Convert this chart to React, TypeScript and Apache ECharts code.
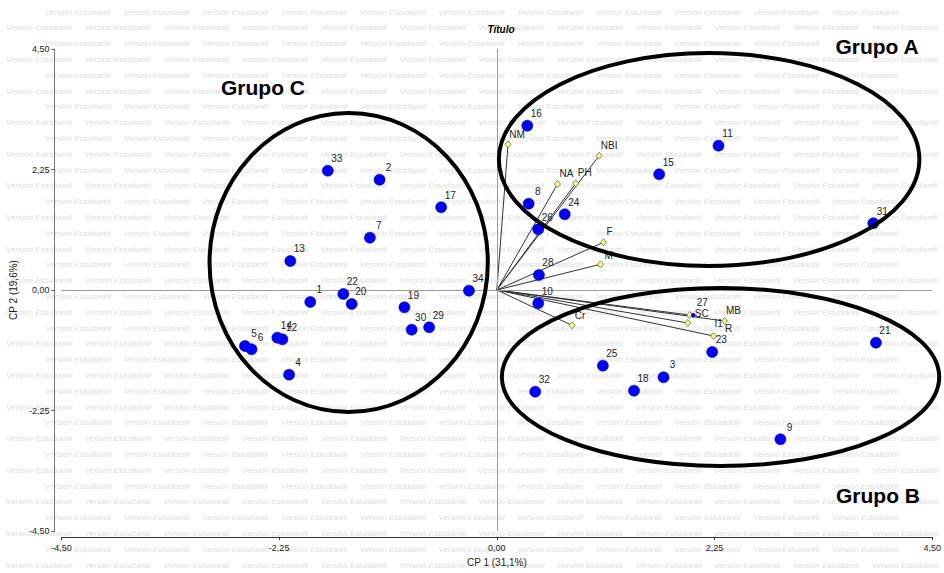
import React, { useEffect, useRef } from "react";
import * as echarts from "echarts";

// ---- Data ----
const pointLabels = ["1","2","3","4","5","6","7","8","9","10","11","12","13","14","15","16","17","18","19","20","21","22","23","24","25","26","27","28","29","30","31","32","33","34"];
const pointX = [-1.928,-1.212,1.723,-2.147,-2.603,-2.535,-1.312,0.329,2.931,0.428,2.291,-2.216,-2.134,-2.268,1.678,0.315,-0.575,1.418,-0.955,-1.5,3.918,-1.586,2.226,0.702,1.096,0.428,2.03,0.435,-0.699,-0.88,3.891,0.397,-1.747,-0.288];
const pointY = [-0.224,2.06,-1.63,-1.581,-1.046,-1.108,0.977,1.611,-2.788,-0.249,2.695,-0.921,0.541,-0.89,2.16,3.068,1.544,-1.88,-0.324,-0.261,-0.983,-0.075,-1.158,1.413,-1.413,1.133,-0.47,0.28,-0.697,-0.741,1.245,-1.898,2.228,-0.012];

const varLabels = ["NM","NBI","NA","PH","F","M","Cr","SC","I1","MB","R"];
const varX = [0.116,1.058,0.627,0.815,1.103,1.072,0.777,1.993,2.24,2.353,1.973];
const varY = [2.72,2.508,1.979,1.992,0.89,0.48,-0.66,-0.467,-0.859,-0.579,-0.616];

const groupNames = ["Grupo A","Grupo B","Grupo C"];
const groupCX = [2.194,2.312,-1.531];
const groupCY = [2.437,-1.624,0.513];
const groupRX = [2.173,2.26,1.438];
const groupRY = [1.988,1.662,2.791];

const axisMin = -4.5;
const axisMax = 4.5;
const axisStep = 2.25;
const xAxisName = "CP 1 (31,1%)";
const yAxisName = "CP 2 (19,6%)";
const chartTitle = "Título";
const watermarkText = "Versión Estudiantil";

// ---- Layout / style (not data) ----
// label centre relative to marker centre, in pixels
const pointLabelOffset = [9, -12];
const varLabelOffsets: number[][] = [[9,-9],[10,-10],[9,-10],[9,-10],[6,-10],[8,-8],[8,-9],[12,-1],[5,-12],[9,-10],[41,6]];
const groupLabelPos: number[][] = [[877,46],[878,495],[263,87]];
const FONT = "'Liberation Sans', Arial, sans-serif";

function fmt(v: number) {
  return v.toFixed(2).replace(".", ",");
}

function buildWatermark() {
  const els: any[] = [];
  const dx = 78.7;
  const dy = 15.8;
  const w = 66;
  for (let i = 0; 12 + i * dy < 568; i++) {
    const y = 12 + i * dy;
    let x = (i % 2 === 0 ? 45 : 6) - dx;
    for (; x < 950; x += dx) {
      if (x < 1 || x + w > 943) continue;
      els.push({
        type: "text",
        silent: true,
        z: -10,
        x,
        y,
        style: {
          text: watermarkText,
          fill: "#e0e0e0",
          font: "italic 8px " + FONT,
          verticalAlign: "middle",
        },
      });
    }
  }
  return els;
}

export default function App() {
  const ref = useRef<HTMLDivElement>(null);
  useEffect(() => {
    if (!ref.current) return;
    const chart = echarts.init(ref.current, undefined, { renderer: "svg" });

    const varH = 7;
    const ptSize = 11;
    const halfText = 5.5;

    const pointData = pointX.map((x, i) => {
      const sz = pointLabels[i] === "27" ? 4 : ptSize;
      return {
        value: [x, pointY[i]],
        name: pointLabels[i],
        symbolSize: sz,
        label: { offset: [pointLabelOffset[0], pointLabelOffset[1] + sz / 2 + halfText] },
      };
    });
    const varData = varX.map((x, i) => ({
      value: [x, varY[i]],
      name: varLabels[i],
      label: { offset: [varLabelOffsets[i][0], varLabelOffsets[i][1] + varH / 2 + halfText] },
    }));
    const lineData = varX.map((x, i) => ({ coords: [[0, 0], [x, varY[i]]] }));
    const ellipseData = groupCX.map((cx, i) => [cx, groupCY[i], groupRX[i], groupRY[i]]);

    const groupTexts = groupNames.map((n, i) => ({
      type: "text",
      x: groupLabelPos[i][0],
      y: groupLabelPos[i][1],
      z: 20,
      style: {
        text: n,
        fill: "#000",
        font: "bold 21px " + FONT,
        align: "center",
        verticalAlign: "middle",
      },
    }));

    const labelCommon = {
      show: true,
      position: "top",
      distance: 0,
      formatter: "{b}",
      fontSize: 10,
      lineHeight: 11,
      color: "#222",
      fontFamily: FONT,
    };

    const option: any = {
      animation: false,
      backgroundColor: "#ffffff",
      textStyle: { fontFamily: FONT },
      title: {
        text: chartTitle,
        left: 496,
        top: 19,
        textAlign: "center",
        textStyle: { fontSize: 10, fontStyle: "italic", fontWeight: "bold", color: "#000", fontFamily: FONT },
      },
      grid: { left: 59, right: 9, top: 49, bottom: 42, containLabel: false },
      xAxis: {
        type: "value",
        min: axisMin,
        max: axisMax,
        interval: axisStep,
        offset: 6,
        name: xAxisName,
        nameLocation: "middle",
        nameGap: 20,
        nameTextStyle: { fontSize: 10, color: "#222", fontFamily: FONT },
        axisLine: { show: true, onZero: false, lineStyle: { color: "#333", width: 1 } },
        axisTick: { show: true, length: 3, lineStyle: { color: "#333" } },
        axisLabel: { formatter: fmt, fontSize: 9, color: "#222", margin: 6, fontFamily: FONT },
        splitLine: { show: false },
      },
      yAxis: {
        type: "value",
        min: axisMin,
        max: axisMax,
        interval: axisStep,
        offset: 7,
        name: yAxisName,
        nameLocation: "middle",
        nameGap: 28,
        nameTextStyle: { fontSize: 10, color: "#222", fontFamily: FONT },
        axisLine: { show: true, onZero: false, lineStyle: { color: "#777", width: 1 } },
        axisTick: { show: true, length: 3, lineStyle: { color: "#555" } },
        axisLabel: { formatter: fmt, fontSize: 9, color: "#222", margin: 5, fontFamily: FONT },
        splitLine: { show: false },
      },
      graphic: [...buildWatermark(), ...groupTexts],
      series: [
        {
          type: "lines",
          coordinateSystem: "cartesian2d",
          silent: true,
          z: 3,
          symbol: "none",
          lineStyle: { color: "#333", width: 1, opacity: 1 },
          data: lineData,
          markLine: {
            silent: true,
            symbol: "none",
            label: { show: false },
            lineStyle: { color: "#9a9a9a", width: 1, type: "solid" },
            data: [{ xAxis: 0 }, { yAxis: 0 }],
          },
        },
        {
          type: "scatter",
          z: 4,
          symbol: "diamond",
          symbolSize: [6, varH],
          itemStyle: { color: "#ffff70", borderColor: "#666", borderWidth: 0.8, opacity: 1 },
          label: { ...labelCommon },
          data: varData,
        },
        {
          type: "scatter",
          z: 5,
          symbol: "circle",
          itemStyle: { color: "#0000ff", borderColor: "#00007a", borderWidth: 0.6, opacity: 1 },
          label: { ...labelCommon },
          data: pointData,
        },
        {
          type: "custom",
          z: 10,
          silent: true,
          clip: false,
          encode: { x: 0, y: 1 },
          renderItem: (params: any, api: any) => {
            const c = api.coord([api.value(0), api.value(1)]);
            const s = api.size([api.value(2), api.value(3)]);
            return {
              type: "ellipse",
              shape: { cx: c[0], cy: c[1], rx: s[0], ry: s[1] },
              style: { fill: "none", stroke: "#000", lineWidth: 4 },
            };
          },
          data: ellipseData,
        },
      ],
    };
    chart.setOption(option);
    return () => chart.dispose();
  }, []);
  return (
    <div
      ref={ref}
      style={{ position: "fixed", left: 0, top: 0, width: 944, height: 573, background: "#fff" }}
    />
  );
}
